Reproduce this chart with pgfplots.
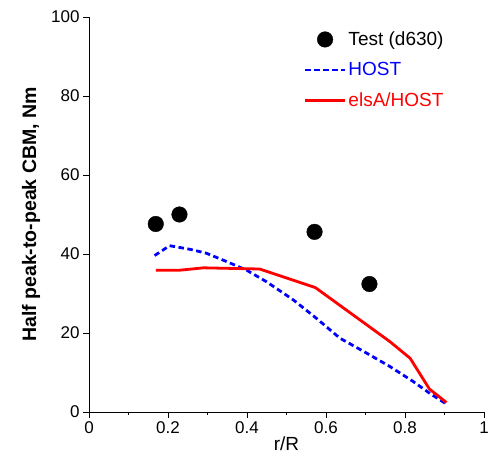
\documentclass[border=0pt]{standalone}
\usepackage{pgfplots}
\pgfplotsset{compat=1.18}
\usepackage{fontspec}
\setmainfont{Liberation Sans}
\begin{document}
\begin{tikzpicture}
\useasboundingbox (0,0) rectangle (488pt,468pt);
\begin{axis}[
  at={(89pt,56pt)}, anchor=south west,
  scale only axis, width=395pt, height=395pt,
  xmin=0, xmax=1, ymin=0, ymax=100,
  axis x line*=bottom, axis y line*=left,
  axis line style={-, line width=0.8pt},
  tick align=outside,
  major tick length=6pt, minor tick length=3pt,
  tick style={line width=0.8pt, black},
  xtick={0,0.2,0.4,0.6,0.8,1}, minor x tick num=1,
  ytick={0,20,40,60,80,100}, minor y tick num=0,
  /pgf/number format/assume math mode=true,
  ticklabel style={font=\fontsize{17}{20}\selectfont},
  xlabel={r/R}, ylabel={Half peak-to-peak CBM, Nm},
  xlabel style={font=\fontsize{19}{20}\selectfont, yshift=4pt},
  ylabel style={font=\fontsize{19.5}{20}\selectfont\bfseries, yshift=4pt},
  legend style={draw=none, fill=none, at={(axis cs:0.543,96.8)}, anchor=north west,
    font=\fontsize{19}{20}\selectfont, row sep=11.5pt, cells={anchor=west},
    inner sep=0pt},
  legend image code/.code={\draw[mark repeat=2,mark phase=2,#1] plot coordinates {(0pt,0pt) (20pt,0pt) (40pt,0pt)};},
]
\addplot[only marks, mark=*, mark size=7.8pt, black] coordinates {
(0.169,47.6) (0.229,50.0) (0.571,45.6) (0.710,32.4)};
\addlegendentry{Test (d630)}
\addplot[blue, line width=2.8pt, dash pattern=on 5.5pt off 3.5pt] coordinates {
(0.166,39.6) (0.204,42.1) (0.255,41.2) (0.297,40.2) (0.348,38.1) (0.399,35.9)
(0.449,33.0) (0.517,28.4) (0.576,23.7) (0.635,18.7) (0.703,14.9) (0.762,11.5)
(0.821,7.7) (0.863,4.7) (0.905,2.0)};
\addlegendentry{\textcolor{blue}{HOST}}
\addplot[red, line width=2.8pt] coordinates {
(0.169,35.9) (0.230,35.9) (0.290,36.5) (0.432,36.2) (0.573,31.5) (0.762,17.8)
(0.813,13.6) (0.862,5.8) (0.905,2.4)};
\addlegendentry{\textcolor{red}{elsA/HOST}}
\end{axis}
\end{tikzpicture}
\end{document}
